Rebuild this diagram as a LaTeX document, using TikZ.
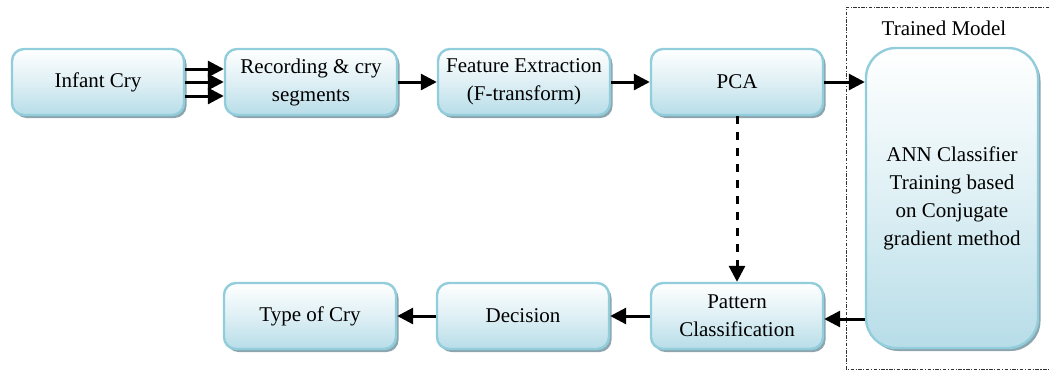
\documentclass[tikz,border=0pt]{standalone}
\usepackage{fontspec}
\setmainfont{Liberation Serif}
\usetikzlibrary{arrows.meta,shadows}
\definecolor{boxborder}{RGB}{146,205,220}
\definecolor{boxbottom}{RGB}{183,221,232}
\definecolor{boxshadow}{RGB}{140,165,175}
\begin{document}
\begin{tikzpicture}[x=1pt,y=-1pt,
  blk/.style={draw=boxborder, line width=2.4pt, rounded corners=12pt,
    top color=white, bottom color=boxbottom, middle color=boxbottom!45,
    minimum width=172pt, minimum height=66pt, inner sep=2pt, align=center,
    font=\fontsize{21}{28}\selectfont,
    drop shadow={shadow xshift=2.5pt, shadow yshift=-3pt, fill=boxshadow, opacity=1}},
  arr/.style={line width=3pt, -{Triangle[length=16pt,width=16pt]}},
  darr/.style={arr, dash pattern=on 8pt off 8pt}]
\useasboundingbox (0,0) rectangle (1051,373);
% dotted frame
\draw[line width=0.9pt, dash pattern=on 1.2pt off 1.5pt on 3.5pt off 1.5pt, black!80]
  (1052,7) -- (846,7) -- (846,369) -- (1052,369);
\node[font=\fontsize{21}{28}\selectfont] (tm) at (944,28) {Trained Model};
% nodes
\node[blk] (inf) at (98,82) {Infant Cry};
\node[blk] (rec) at (311,82) {Recording \& cry\\segments};
\node[blk] (fe) at (524,82) {Feature Extraction\\(F-transform)};
\node[blk] (pca) at (737,82) {PCA};
\node[blk, minimum height=300pt, rounded corners=30pt] (ann) at (952,198)
  {ANN Classifier\\Training based\\on Conjugate\\gradient method};
\node[blk] (pat) at (737,316) {Pattern\\Classification};
\node[blk] (dec) at (523,316) {Decision};
\node[blk] (typ) at (310,316) {Type of Cry};
% connectors
\draw[arr] ([yshift=13pt]inf.east) -- ([yshift=13pt]rec.west);
\draw[arr] (inf.east) -- (rec.west);
\draw[arr] ([yshift=-14pt]inf.east) -- ([yshift=-14pt]rec.west);
\draw[arr] (rec) -- (fe);
\draw[arr] (fe) -- (pca);
\draw[arr] (pca.east) -- (pca.east -| ann.west);
\draw[darr] (pca) -- (pat);
\draw[arr] ([yshift=-3pt]ann.west |- pat.east) -- ([yshift=-3pt]pat.east);
\draw[arr] (pat) -- (dec);
\draw[arr] (dec) -- (typ);
\end{tikzpicture}
\end{document}
